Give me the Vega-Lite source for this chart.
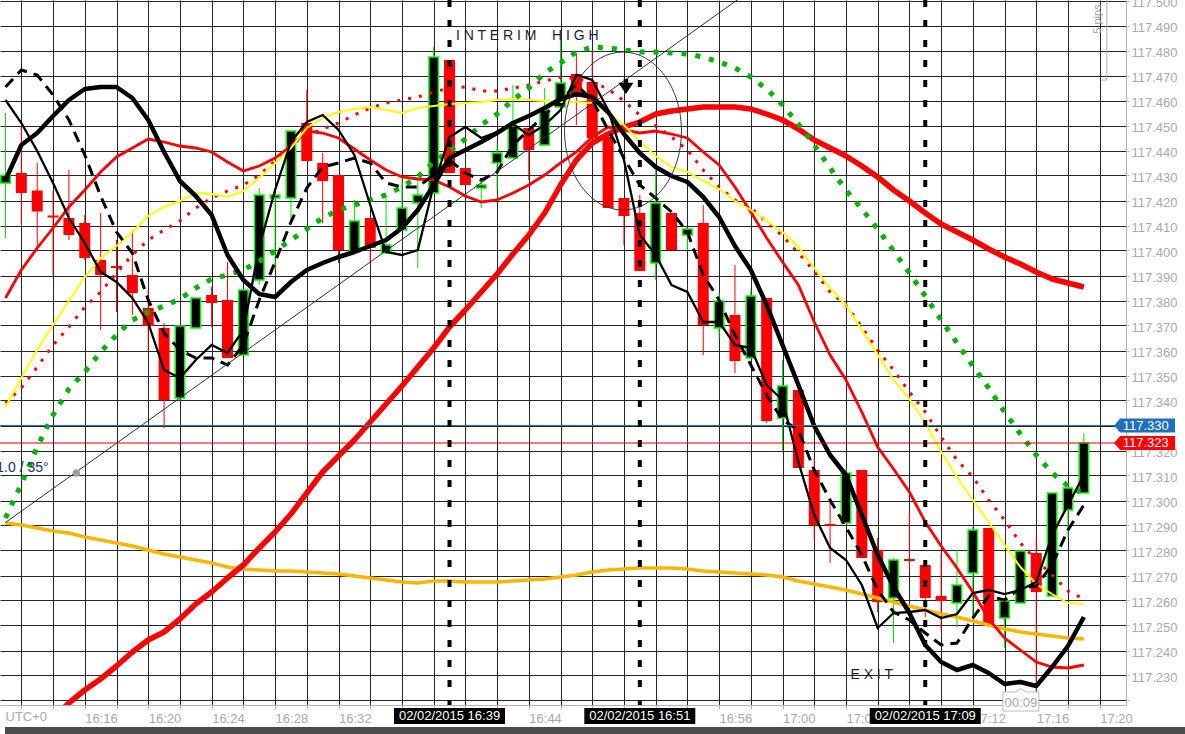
{
"$schema":"https://vega.github.io/schema/vega-lite/v6.json",
"width":1126,"height":705,
"autosize":{"type":"none"},
"padding":{"left":0,"top":0,"right":59,"bottom":29},
"background":"#ffffff",
"config":{"font":"Liberation Sans","view":{"stroke":null},
"axis":{"labelOverlap":false,"labelFlush":false,"labelBound":false,"grid":true,"gridColor":"#262626","gridWidth":1,"domainColor":"#b4b4b4","tickColor":"#b4b4b4","labelColor":"#aca6b6","labelFont":"Liberation Sans","labelFontSize":13,"title":null},
"axisX":{"tickCount":29,"tickSize":4,"labelAlign":"left","labelBaseline":"top","labelPadding":3},
"axisY":{"tickCount":29,"tickSize":3,"labelAlign":"left","labelBaseline":"middle","labelPadding":2,"labelOffset":1.5}},
"datasets":{
"bars":[
{"t":11,"o":117.427,"h":117.455,"l":117.405,"c":117.430,"k1":117.4282,"k2":117.4602,"k3":117.4654,"r1":null,"r2":117.3810,"r3":117.3390,"yl":117.3374,"gd":117.2930,"og":117.2910},
{"t":12,"o":117.431,"h":117.450,"l":117.410,"c":117.423,"k1":117.4422,"k2":117.4510,"k3":117.4722,"r1":null,"r2":117.3922,"r3":117.3450,"yl":117.3490,"gd":117.3066,"og":117.2902},
{"t":13,"o":117.424,"h":117.435,"l":117.400,"c":117.4156,"k1":117.4470,"k2":117.4398,"k3":117.4702,"r1":null,"r2":117.4010,"r3":117.3534,"yl":117.3602,"gd":117.3214,"og":117.2890},
{"t":14,"o":117.414,"h":117.424,"l":117.390,"c":117.4132,"k1":117.4538,"k2":117.4270,"k3":117.4622,"r1":117.2130,"r2":117.4090,"r3":117.3622,"yl":117.3702,"gd":117.3342,"og":117.2878},
{"t":15,"o":117.4130,"h":117.4322,"l":117.4042,"c":117.4062,"k1":117.4602,"k2":117.4130,"k3":117.4522,"r1":117.2190,"r2":117.4174,"r3":117.3694,"yl":117.3798,"gd":117.3446,"og":117.2870},
{"t":16,"o":117.4110,"h":117.4142,"l":117.3962,"c":117.3970,"k1":117.4646,"k2":117.4030,"k3":117.4382,"r1":117.2242,"r2":117.4242,"r3":117.3774,"yl":117.3894,"gd":117.3514,"og":117.2854},
{"t":17,"o":117.3962,"h":117.4150,"l":117.3682,"c":117.3902,"k1":117.4654,"k2":117.3914,"k3":117.4218,"r1":117.2286,"r2":117.4314,"r3":117.3834,"yl":117.3970,"gd":117.3594,"og":117.2842},
{"t":18,"o":117.3938,"h":117.4042,"l":117.3754,"c":117.3930,"k1":117.4654,"k2":117.3874,"k3":117.4074,"r1":117.2338,"r2":117.4374,"r3":117.3910,"yl":117.4018,"gd":117.3662,"og":117.2830},
{"t":19,"o":117.3902,"h":117.4082,"l":117.3742,"c":117.3830,"k1":117.4610,"k2":117.3810,"k3":117.3990,"r1":117.2394,"r2":117.4410,"r3":117.3982,"yl":117.4074,"gd":117.3722,"og":117.2818},
{"t":20,"o":117.3770,"h":117.3842,"l":117.3602,"c":117.3698,"k1":117.4522,"k2":117.3710,"k3":117.3802,"r1":117.2442,"r2":117.4446,"r3":117.4042,"yl":117.4138,"gd":117.3754,"og":117.2802},
{"t":21,"o":117.3690,"h":117.3710,"l":117.3290,"c":117.3402,"k1":117.4394,"k2":117.3522,"k3":117.3670,"r1":117.2474,"r2":117.4434,"r3":117.4082,"yl":117.4174,"gd":117.3778,"og":117.2786},
{"t":22,"o":117.3410,"h":117.3700,"l":117.3400,"c":117.3698,"k1":117.4278,"k2":117.3490,"k3":117.3602,"r1":117.2526,"r2":117.4418,"r3":117.4118,"yl":117.4198,"gd":117.3806,"og":117.2774},
{"t":23,"o":117.3690,"h":117.3810,"l":117.3690,"c":117.3810,"k1":117.4218,"k2":117.3562,"k3":117.3570,"r1":117.2586,"r2":117.4410,"r3":117.4170,"yl":117.4230,"gd":117.3850,"og":117.2762},
{"t":24,"o":117.3822,"h":117.3854,"l":117.3694,"c":117.3790,"k1":117.4142,"k2":117.3622,"k3":117.3570,"r1":117.2634,"r2":117.4394,"r3":117.4210,"yl":117.4226,"gd":117.3886,"og":117.2750},
{"t":25,"o":117.3802,"h":117.3954,"l":117.3570,"c":117.3570,"k1":117.3982,"k2":117.3590,"k3":117.3542,"r1":117.2690,"r2":117.4354,"r3":117.4238,"yl":117.4214,"gd":117.3902,"og":117.2734},
{"t":26,"o":117.3582,"h":117.3842,"l":117.3582,"c":117.3842,"k1":117.3882,"k2":117.3682,"k3":117.3622,"r1":117.2742,"r2":117.4318,"r3":117.4262,"yl":117.4238,"gd":117.3922,"og":117.2726},
{"t":27,"o":117.3882,"h":117.4250,"l":117.3862,"c":117.4222,"k1":117.3826,"k2":117.4014,"k3":117.3802,"r1":117.2810,"r2":117.4338,"r3":117.4302,"yl":117.4290,"gd":117.3958,"og":117.2722},
{"t":28,"o":117.4210,"h":117.4230,"l":117.3922,"c":117.4222,"k1":117.3814,"k2":117.4242,"k3":117.3954,"r1":117.2874,"r2":117.4370,"r3":117.4358,"yl":117.4350,"gd":117.3998,"og":117.2718},
{"t":29,"o":117.4210,"h":117.4478,"l":117.4110,"c":117.4478,"k1":117.3874,"k2":117.4434,"k3":117.4114,"r1":117.2946,"r2":117.4418,"r3":117.4426,"yl":117.4410,"gd":117.4042,"og":117.2718},
{"t":30,"o":117.4510,"h":117.4642,"l":117.4358,"c":117.4358,"k1":117.3922,"k2":117.4514,"k3":117.4250,"r1":117.3030,"r2":117.4478,"r3":117.4458,"yl":117.4490,"gd":117.4086,"og":117.2714},
{"t":31,"o":117.4350,"h":117.4390,"l":117.4110,"c":117.4278,"k1":117.3950,"k2":117.4542,"k3":117.4334,"r1":117.3114,"r2":117.4470,"r3":117.4486,"yl":117.4530,"gd":117.4130,"og":117.2710},
{"t":32,"o":117.4302,"h":117.4302,"l":117.3950,"c":117.4002,"k1":117.3974,"k2":117.4482,"k3":117.4350,"r1":117.3178,"r2":117.4450,"r3":117.4510,"yl":117.4554,"gd":117.4162,"og":117.2706},
{"t":33,"o":117.3994,"h":117.4202,"l":117.3994,"c":117.4118,"k1":117.3994,"k2":117.4382,"k3":117.4370,"r1":117.3242,"r2":117.4406,"r3":117.4542,"yl":117.4566,"gd":117.4182,"og":117.2698},
{"t":34,"o":117.4130,"h":117.4130,"l":117.3954,"c":117.4010,"k1":117.4018,"k2":117.4182,"k3":117.4350,"r1":117.3314,"r2":117.4362,"r3":117.4570,"yl":117.4574,"gd":117.4202,"og":117.2690},
{"t":35,"o":117.3990,"h":117.4210,"l":117.3990,"c":117.4022,"k1":117.4042,"k2":117.3994,"k3":117.4270,"r1":117.3386,"r2":117.4322,"r3":117.4590,"yl":117.4562,"gd":117.4222,"og":117.2682},
{"t":36,"o":117.4082,"h":117.4294,"l":117.4082,"c":117.4170,"k1":117.4090,"k2":117.3982,"k3":117.4254,"r1":117.3458,"r2":117.4294,"r3":117.4602,"yl":117.4550,"gd":117.4254,"og":117.2674},
{"t":37,"o":117.4190,"h":117.4282,"l":117.3930,"c":117.4222,"k1":117.4162,"k2":117.4002,"k3":117.4254,"r1":117.3534,"r2":117.4286,"r3":117.4614,"yl":117.4570,"gd":117.4294,"og":117.2670},
{"t":38,"o":117.4230,"h":117.4814,"l":117.4230,"c":117.4774,"k1":117.4262,"k2":117.4262,"k3":117.4302,"r1":117.3610,"r2":117.4282,"r3":117.4634,"yl":117.4578,"gd":117.4354,"og":117.2678},
{"t":39,"o":117.4762,"h":117.4762,"l":117.4310,"c":117.4310,"k1":117.4370,"k2":117.4454,"k3":117.4362,"r1":117.3694,"r2":117.4254,"r3":117.4650,"yl":117.4586,"gd":117.4398,"og":117.2678},
{"t":40,"o":117.4330,"h":117.4330,"l":117.4262,"c":117.4262,"k1":117.4402,"k2":117.4494,"k3":117.4310,"r1":117.3762,"r2":117.4218,"r3":117.4654,"yl":117.4590,"gd":117.4446,"og":117.2674},
{"t":41,"o":117.4250,"h":117.4290,"l":117.4170,"c":117.4262,"k1":117.4434,"k2":117.4450,"k3":117.4282,"r1":117.3834,"r2":117.4194,"r3":117.4638,"yl":117.4594,"gd":117.4502,"og":117.2674},
{"t":42,"o":117.4350,"h":117.4430,"l":117.4242,"c":117.4390,"k1":117.4470,"k2":117.4474,"k3":117.4314,"r1":117.3906,"r2":117.4202,"r3":117.4638,"yl":117.4602,"gd":117.4546,"og":117.2674},
{"t":43,"o":117.4370,"h":117.4662,"l":117.4370,"c":117.4498,"k1":117.4510,"k2":117.4506,"k3":117.4422,"r1":117.3986,"r2":117.4230,"r3":117.4650,"yl":117.4606,"gd":117.4602,"og":117.2678},
{"t":44,"o":117.4490,"h":117.4490,"l":117.4282,"c":117.4402,"k1":117.4538,"k2":117.4462,"k3":117.4482,"r1":117.4062,"r2":117.4262,"r3":117.4662,"yl":117.4602,"gd":117.4650,"og":117.2682},
{"t":45,"o":117.4422,"h":117.4650,"l":117.4422,"c":117.4562,"k1":117.4570,"k2":117.4502,"k3":117.4542,"r1":117.4150,"r2":117.4302,"r3":117.4678,"yl":117.4598,"gd":117.4710,"og":117.2686},
{"t":46,"o":117.4574,"h":117.4842,"l":117.4574,"c":117.4670,"k1":117.4606,"k2":117.4562,"k3":117.4602,"r1":117.4262,"r2":117.4350,"r3":117.4694,"yl":117.4594,"gd":117.4750,"og":117.2694},
{"t":47,"o":117.4706,"h":117.4790,"l":117.4502,"c":117.4614,"k1":117.4626,"k2":117.4702,"k3":117.4662,"r1":117.4362,"r2":117.4394,"r3":117.4686,"yl":117.4594,"gd":117.4794,"og":117.2702},
{"t":48,"o":117.4674,"h":117.4802,"l":117.4450,"c":117.4450,"k1":117.4614,"k2":117.4682,"k3":117.4602,"r1":117.4430,"r2":117.4454,"r3":117.4674,"yl":117.4590,"gd":117.4814,"og":117.2714},
{"t":49,"o":117.4454,"h":117.4454,"l":117.4170,"c":117.4170,"k1":117.4554,"k2":117.4562,"k3":117.4482,"r1":117.4466,"r2":117.4494,"r3":117.4646,"yl":117.4550,"gd":117.4810,"og":117.2722},
{"t":50,"o":117.4210,"h":117.4210,"l":117.4022,"c":117.4138,"k1":117.4466,"k2":117.4362,"k3":117.4370,"r1":117.4494,"r2":117.4482,"r3":117.4598,"yl":117.4502,"gd":117.4802,"og":117.2726},
{"t":51,"o":117.4150,"h":117.4222,"l":117.3918,"c":117.3918,"k1":117.4390,"k2":117.4062,"k3":117.4262,"r1":117.4514,"r2":117.4470,"r3":117.4542,"yl":117.4434,"gd":117.4794,"og":117.2730},
{"t":52,"o":117.3950,"h":117.4342,"l":117.3882,"c":117.4190,"k1":117.4334,"k2":117.3982,"k3":117.4210,"r1":117.4546,"r2":117.4478,"r3":117.4498,"yl":117.4378,"gd":117.4794,"og":117.2730},
{"t":53,"o":117.4150,"h":117.4150,"l":117.4002,"c":117.4002,"k1":117.4298,"k2":117.3862,"k3":117.4154,"r1":117.4558,"r2":117.4466,"r3":117.4454,"yl":117.4334,"gd":117.4790,"og":117.2730},
{"t":54,"o":117.4062,"h":117.4086,"l":117.4002,"c":117.4086,"k1":117.4274,"k2":117.3834,"k3":117.4074,"r1":117.4566,"r2":117.4450,"r3":117.4402,"yl":117.4314,"gd":117.4786,"og":117.2726},
{"t":55,"o":117.4110,"h":117.4182,"l":117.3582,"c":117.3702,"k1":117.4214,"k2":117.3714,"k3":117.3902,"r1":117.4574,"r2":117.4394,"r3":117.4322,"yl":117.4278,"gd":117.4774,"og":117.2718},
{"t":56,"o":117.3690,"h":117.3830,"l":117.3650,"c":117.3798,"k1":117.4134,"k2":117.3714,"k3":117.3802,"r1":117.4574,"r2":117.4342,"r3":117.4254,"yl":117.4246,"gd":117.4754,"og":117.2714},
{"t":57,"o":117.3742,"h":117.3942,"l":117.3510,"c":117.3558,"k1":117.4018,"k2":117.3622,"k3":117.3662,"r1":117.4574,"r2":117.4254,"r3":117.4202,"yl":117.4198,"gd":117.4730,"og":117.2710},
{"t":58,"o":117.3570,"h":117.3842,"l":117.3570,"c":117.3818,"k1":117.3922,"k2":117.3610,"k3":117.3542,"r1":117.4566,"r2":117.4154,"r3":117.4170,"yl":117.4162,"gd":117.4694,"og":117.2706},
{"t":59,"o":117.3810,"h":117.3810,"l":117.3310,"c":117.3318,"k1":117.3782,"k2":117.3462,"k3":117.3422,"r1":117.4546,"r2":117.4050,"r3":117.4114,"yl":117.4118,"gd":117.4646,"og":117.2702},
{"t":60,"o":117.3330,"h":117.3562,"l":117.3202,"c":117.3458,"k1":117.3622,"k2":117.3402,"k3":117.3322,"r1":117.4522,"r2":117.3954,"r3":117.4058,"yl":117.4074,"gd":117.4582,"og":117.2694},
{"t":61,"o":117.3442,"h":117.3442,"l":117.3130,"c":117.3130,"k1":117.3462,"k2":117.3154,"k3":117.3282,"r1":117.4486,"r2":117.3862,"r3":117.3990,"yl":117.4014,"gd":117.4506,"og":117.2678},
{"t":62,"o":117.3122,"h":117.3170,"l":117.2842,"c":117.2902,"k1":117.3298,"k2":117.2942,"k3":117.3122,"r1":117.4442,"r2":117.3714,"r3":117.3918,"yl":117.3930,"gd":117.4422,"og":117.2666},
{"t":63,"o":117.2906,"h":117.3002,"l":117.2750,"c":117.2898,"k1":117.3182,"k2":117.2810,"k3":117.3002,"r1":117.4410,"r2":117.3582,"r3":117.3834,"yl":117.3850,"gd":117.4330,"og":117.2654},
{"t":64,"o":117.2910,"h":117.3130,"l":117.2910,"c":117.3110,"k1":117.3102,"k2":117.2762,"k3":117.2894,"r1":117.4378,"r2":117.3482,"r3":117.3782,"yl":117.3782,"gd":117.4242,"og":117.2642},
{"t":65,"o":117.3122,"h":117.3122,"l":117.2770,"c":117.2770,"k1":117.2942,"k2":117.2662,"k3":117.2782,"r1":117.4338,"r2":117.3354,"r3":117.3694,"yl":117.3682,"gd":117.4166,"og":117.2626},
{"t":66,"o":117.2802,"h":117.2850,"l":117.2554,"c":117.2594,"k1":117.2782,"k2":117.2490,"k3":117.2642,"r1":117.4294,"r2":117.3214,"r3":117.3602,"yl":117.3582,"gd":117.4086,"og":117.2610},
{"t":67,"o":117.2610,"h":117.2770,"l":117.2430,"c":117.2762,"k1":117.2654,"k2":117.2550,"k3":117.2554,"r1":117.4242,"r2":117.3126,"r3":117.3522,"yl":117.3482,"gd":117.3998,"og":117.2594},
{"t":68,"o":117.2766,"h":117.2950,"l":117.2722,"c":117.2758,"k1":117.2550,"k2":117.2554,"k3":117.2522,"r1":117.4198,"r2":117.3034,"r3":117.3434,"yl":117.3406,"gd":117.3910,"og":117.2578},
{"t":69,"o":117.2742,"h":117.2742,"l":117.2534,"c":117.2610,"k1":117.2422,"k2":117.2562,"k3":117.2470,"r1":117.4150,"r2":117.2914,"r3":117.3354,"yl":117.3310,"gd":117.3818,"og":117.2562},
{"t":70,"o":117.2618,"h":117.2790,"l":117.2482,"c":117.2598,"k1":117.2354,"k2":117.2530,"k3":117.2422,"r1":117.4106,"r2":117.2818,"r3":117.3254,"yl":117.3194,"gd":117.3722,"og":117.2546},
{"t":71,"o":117.2590,"h":117.2802,"l":117.2494,"c":117.2662,"k1":117.2322,"k2":117.2546,"k3":117.2430,"r1":117.4074,"r2":117.2730,"r3":117.3162,"yl":117.3094,"gd":117.3630,"og":117.2534},
{"t":72,"o":117.2710,"h":117.2894,"l":117.2522,"c":117.2882,"k1":117.2342,"k2":117.2630,"k3":117.2530,"r1":117.4042,"r2":117.2634,"r3":117.3094,"yl":117.3002,"gd":117.3538,"og":117.2518},
{"t":73,"o":117.2890,"h":117.2890,"l":117.2502,"c":117.2502,"k1":117.2310,"k2":117.2642,"k3":117.2618,"r1":117.4006,"r2":117.2526,"r3":117.3002,"yl":117.2914,"gd":117.3450,"og":117.2502},
{"t":74,"o":117.2530,"h":117.2598,"l":117.2410,"c":117.2598,"k1":117.2266,"k2":117.2626,"k3":117.2602,"r1":117.3974,"r2":117.2450,"r3":117.2922,"yl":117.2822,"gd":117.3354,"og":117.2486},
{"t":75,"o":117.2590,"h":117.2798,"l":117.2590,"c":117.2798,"k1":117.2274,"k2":117.2642,"k3":117.2650,"r1":117.3946,"r2":117.2402,"r3":117.2830,"yl":117.2734,"gd":117.3266,"og":117.2474},
{"t":76,"o":117.2790,"h":117.2854,"l":117.2182,"c":117.2634,"k1":117.2258,"k2":117.2674,"k3":117.2658,"r1":117.3914,"r2":117.2354,"r3":117.2762,"yl":117.2666,"gd":117.3182,"og":117.2466},
{"t":77,"o":117.2618,"h":117.3030,"l":117.2618,"c":117.3030,"k1":117.2334,"k2":117.2862,"k3":117.2742,"r1":117.3886,"r2":117.2334,"r3":117.2702,"yl":117.2626,"gd":117.3110,"og":117.2458},
{"t":78,"o":117.2962,"h":117.3050,"l":117.2854,"c":117.3050,"k1":117.2418,"k2":117.2982,"k3":117.2882,"r1":117.3870,"r2":117.2330,"r3":117.2638,"yl":117.2590,"gd":117.3058,"og":117.2450},
{"t":79,"o":117.3030,"h":117.3270,"l":117.3030,"c":117.3230,"k1":117.2534,"k2":117.3102,"k3":117.2982,"r1":117.3854,"r2":117.2342,"r3":117.2606,"yl":117.2586,"gd":117.3026,"og":117.2446}
],
"events":[
{"t":39,"label":"02/02/2015 16:39"},
{"t":51,"label":"02/02/2015 16:51"},
{"t":69,"label":"02/02/2015 17:09"}
],
"note":[{"n":1}]
},
"layer":[
{"data":{"name":"bars"},"transform":[{"filter":"datum.c < datum.o"}],
"mark":{"type":"rule","color":"#ff0000","strokeWidth":1,"clip":true},
"encoding":{
"x":{"field":"t","type":"quantitative","title":null,
"scale":{"domain":[10.96875,81.34375],"nice":false,"zero":false},
"axis":{"orient":"bottom","tickCount":29,"labelOverlap":false,
"labelExpr":"(datum.value % 4 == 0 && datum.value >= 16 && datum.value != 36 && datum.value != 40 && datum.value != 48 && datum.value != 52 && datum.value != 68) ? (16 + floor(datum.value / 60)) + ':' + (datum.value % 60 < 10 ? '0' : '') + (datum.value % 60) : ''"}},
"y":{"field":"l","type":"quantitative","title":null,
"scale":{"domain":[117.2182,117.5002],"nice":false,"zero":false},
"axis":{"orient":"right","tickCount":29,"labelOverlap":false,
"labelExpr":"(datum.value < 117.225 || (datum.value > 117.325 && datum.value < 117.335)) ? '' : format(datum.value, '.3f')"}},
"y2":{"field":"h"}}},
{"data":{"name":"bars"},"transform":[{"filter":"datum.c >= datum.o"}],
"mark":{"type":"rule","color":"#00e000","strokeWidth":1,"clip":true},
"encoding":{"x":{"field":"t","type":"quantitative"},"y":{"field":"l","type":"quantitative"},"y2":{"field":"h"}}},
{"data":{"name":"bars"},"transform":[{"filter":"datum.c < datum.o"}],
"mark":{"type":"bar","color":"#ff0000","width":11,"clip":true},
"encoding":{"x":{"field":"t","type":"quantitative"},"y":{"field":"o","type":"quantitative"},"y2":{"field":"c"}}},
{"data":{"name":"bars"},"transform":[{"filter":"datum.c >= datum.o"}],
"mark":{"type":"bar","fill":"#000000","stroke":"#00ff00","strokeWidth":1.5,"width":9.5,"clip":true},
"encoding":{"x":{"field":"t","type":"quantitative"},"y":{"field":"o","type":"quantitative"},"y2":{"field":"c"}}},
{"data":{"name":"bars"},"mark":{"type":"line","color":"#ffb400","strokeWidth":3.5,"clip":true},
"encoding":{"x":{"field":"t","type":"quantitative"},"y":{"field":"og","type":"quantitative"}}},
{"data":{"name":"bars"},"mark":{"type":"line","color":"#ff0000","strokeWidth":5.5,"clip":true,"strokeJoin":"round"},
"encoding":{"x":{"field":"t","type":"quantitative"},"y":{"field":"r1","type":"quantitative"}}},
{"data":{"name":"bars"},"mark":{"type":"line","color":"#ff0000","strokeWidth":2.8,"clip":true},
"encoding":{"x":{"field":"t","type":"quantitative"},"y":{"field":"r2","type":"quantitative"}}},
{"data":{"name":"bars"},"mark":{"type":"line","color":"#ff0000","strokeWidth":3,"strokeDash":[3,8],"clip":true},
"encoding":{"x":{"field":"t","type":"quantitative"},"y":{"field":"r3","type":"quantitative"}}},
{"data":{"name":"bars"},"mark":{"type":"line","color":"#ffff00","strokeWidth":2,"clip":true},
"encoding":{"x":{"field":"t","type":"quantitative"},"y":{"field":"yl","type":"quantitative"}}},
{"data":{"name":"bars"},"mark":{"type":"line","color":"#00b400","strokeWidth":5,"strokeDash":[5,9],"clip":true},
"encoding":{"x":{"field":"t","type":"quantitative"},"y":{"field":"gd","type":"quantitative"}}},
{"data":{"name":"bars"},"mark":{"type":"line","color":"#000000","strokeWidth":2.3,"clip":true},
"encoding":{"x":{"field":"t","type":"quantitative"},"y":{"field":"k2","type":"quantitative"}}},
{"data":{"name":"bars"},"mark":{"type":"line","color":"#000000","strokeWidth":3,"strokeDash":[11,7],"clip":true},
"encoding":{"x":{"field":"t","type":"quantitative"},"y":{"field":"k3","type":"quantitative"}}},
{"data":{"name":"bars"},"mark":{"type":"line","color":"#000000","strokeWidth":4.5,"clip":true,"strokeJoin":"round"},
"encoding":{"x":{"field":"t","type":"quantitative"},"y":{"field":"k1","type":"quantitative"}}},
{"data":{"name":"note"},"mark":{"type":"rule","color":"#333333","strokeWidth":1,"clip":true},
"encoding":{"x":{"datum":11},"x2":{"datum":58},"y":{"datum":117.2912},"y2":{"datum":117.5041}}},
{"data":{"name":"note"},"mark":{"type":"point","shape":"circle","filled":true,"color":"#a0a0a0","size":55,"opacity":1},
"encoding":{"x":{"datum":15.47},"y":{"datum":117.3110}}},
{"data":{"name":"note"},"mark":{"type":"text","text":"1.0 / 35°","align":"right","baseline":"alphabetic","fontSize":14,"color":"#22305a"},
"encoding":{"x":{"datum":13.72},"y":{"datum":117.3115}}},
{"data":{"name":"note"},"mark":{"type":"point","shape":"M 0.74 0 C 0.74 0.5523 0.4087 1 0 1 C -0.4087 1 -0.74 0.5523 -0.74 0 C -0.74 -0.5523 -0.4087 -1 0 -1 C 0.4087 -1 0.74 -0.5523 0.74 0 Z","filled":false,"color":"#3a3a3a","strokeWidth":1,"size":24964,"opacity":1},
"encoding":{"x":{"datum":49.94},"y":{"datum":117.4478}}},
{"data":{"name":"note"},"mark":{"type":"point","shape":"M -0.3 -1 L 0.3 -1 L 0.3 -0.5 L 1 -0.5 L 0 1 L -1 -0.5 L -0.3 -0.5 Z","filled":true,"color":"#000000","size":225,"opacity":1},
"encoding":{"x":{"datum":50.125},"y":{"datum":117.4656}}},
{"data":{"name":"note"},"mark":{"type":"rule","color":"#2a70b0","strokeWidth":1},
"encoding":{"y":{"datum":117.33}}},
{"data":{"name":"note"},"mark":{"type":"rule","color":"#e00000","strokeWidth":1},
"encoding":{"y":{"datum":117.323}}},
{"data":{"name":"events"},"mark":{"type":"rule","color":"#000000","strokeWidth":4,"strokeDash":[7,13]},
"encoding":{"x":{"field":"t","type":"quantitative"}}},
{"data":{"name":"note"},"mark":{"type":"text","text":"I N T E R I M\u00a0\u00a0\u00a0 H I G H","align":"left","baseline":"alphabetic","fontSize":14,"color":"#1c1c3c"},
"encoding":{"x":{"datum":39.41},"y":{"datum":117.4842}}},
{"data":{"name":"note"},"mark":{"type":"text","text":"E X I T","align":"left","baseline":"alphabetic","fontSize":14,"color":"#1c1c3c"},
"encoding":{"x":{"datum":64.28},"y":{"datum":117.2286}}},
{"data":{"name":"note"},"mark":{"type":"rect","color":"#4b4b4b"},
"encoding":{"x":{"datum":10.96875},"x2":{"datum":86},"y":{"datum":117.2094},"y2":{"datum":117.2050}}},
{"data":{"name":"events"},"mark":{"type":"point","shape":"M -1 -0.144 L 1 -0.144 L 1 0.144 L -1 0.144 Z","filled":true,"color":"#000000","size":12321,"opacity":1},
"encoding":{"x":{"field":"t","type":"quantitative"},"y":{"datum":117.2138}}},
{"data":{"name":"events"},"mark":{"type":"text","align":"center","baseline":"middle","fontSize":13,"color":"#ffffff"},
"encoding":{"x":{"field":"t","type":"quantitative"},"y":{"datum":117.2138},"text":{"field":"label"}}},
{"data":{"name":"note"},"mark":{"type":"text","text":"UTC+0","align":"left","baseline":"middle","fontSize":13,"color":"#aca6b6"},
"encoding":{"x":{"datum":11.0},"y":{"datum":117.2134}}},
{"data":{"name":"note"},"mark":{"type":"point","shape":"M -1 -0.53 L -0.28 -0.53 L 0 -0.72 L 0.28 -0.53 L 1 -0.53 L 1 0.53 L -1 0.53 Z","filled":true,"fill":"#ffffff","stroke":"#bbbbbb","strokeWidth":1,"size":1296,"opacity":1},
"encoding":{"x":{"datum":75.03},"y":{"datum":117.2196}}},
{"data":{"name":"note"},"mark":{"type":"text","text":"00:09","align":"center","baseline":"middle","fontSize":13,"color":"#a8a8a8"},
"encoding":{"x":{"datum":75.03},"y":{"datum":117.2190}}},
{"data":{"name":"note"},"mark":{"type":"point","shape":"M -1 0 L -0.8 -0.23 L 1 -0.23 L 1 0.23 L -0.8 0.23 Z","filled":true,"color":"#1f6fbf","size":3721,"opacity":1},
"encoding":{"x":{"datum":82.83},"y":{"datum":117.33}}},
{"data":{"name":"note"},"mark":{"type":"text","text":"117.330","align":"center","baseline":"middle","fontSize":13,"color":"#ffffff"},
"encoding":{"x":{"datum":82.9},"y":{"datum":117.33}}},
{"data":{"name":"note"},"mark":{"type":"point","shape":"M -1 0 L -0.8 -0.23 L 1 -0.23 L 1 0.23 L -0.8 0.23 Z","filled":true,"color":"#ff0000","size":3721,"opacity":1},
"encoding":{"x":{"datum":82.83},"y":{"datum":117.323}}},
{"data":{"name":"note"},"mark":{"type":"text","text":"117.323","align":"center","baseline":"middle","fontSize":13,"color":"#ffffff"},
"encoding":{"x":{"datum":82.9},"y":{"datum":117.323}}},
{"data":{"name":"note"},"mark":{"type":"text","text":"5 pips","angle":270,"align":"center","baseline":"middle","fontSize":11,"color":"#a0a0a0"},
"encoding":{"x":{"datum":79.9},"y":{"datum":117.4926}}},
{"data":{"name":"note"},"mark":{"type":"rule","color":"#aaaaaa","strokeWidth":1},
"encoding":{"x":{"datum":80.45},"y":{"datum":117.5002},"y2":{"datum":117.4682}}},
{"data":{"name":"note"},"mark":{"type":"rule","color":"#aaaaaa","strokeWidth":1},
"encoding":{"x":{"datum":80.09},"x2":{"datum":80.45},"y":{"datum":117.4682}}}
]
}
